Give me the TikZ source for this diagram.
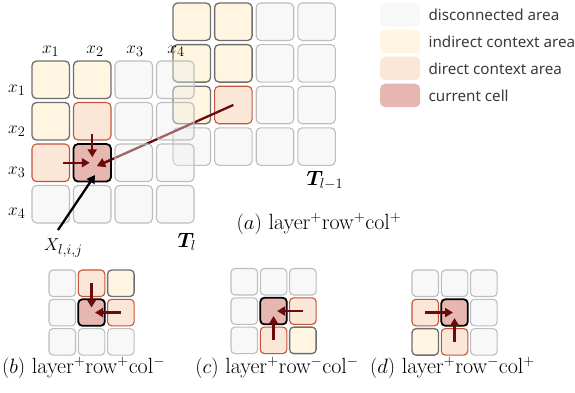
\documentclass[tikz,border=0pt]{standalone}
\usepackage{fontspec}
\usepackage{amsmath}
\usepackage{bm}
\newfontfamily\legendfont{Noto Sans}
\usetikzlibrary{arrows.meta,calc}

% cell colours (used with fill opacity 0.4)
\definecolor{discfill}{HTML}{EEEEEE}
\definecolor{discline}{HTML}{BDBDBD}
\definecolor{indfill}{HTML}{FFE6B2}
\definecolor{indline}{HTML}{6E6E6E}
\definecolor{dirfill}{HTML}{F5C39E}
\definecolor{dirline}{HTML}{C4533A}
\definecolor{curfill}{HTML}{C1493A}
\definecolor{flowred}{HTML}{6B0A0A}
\definecolor{legendgray}{HTML}{3A3A3A}

\tikzset{
  cellbox/.style={rectangle, rounded corners=4.5pt, inner sep=0pt, outer sep=0pt,
                  anchor=north west, fill opacity=0.4},
  cdisc/.style={cellbox, fill=discfill, draw=discline, line width=1.1pt},
  cind/.style={cellbox, fill=indfill, draw=indline, line width=1.3pt},
  cdir/.style={cellbox, fill=dirfill, draw=dirline, line width=1.1pt},
  ccur/.style={cellbox, fill=curfill, draw=black, line width=1.8pt},
  bigcell/.style={minimum size=37.5pt},
  smallcell/.style={minimum size=26.5pt, rounded corners=4pt},
  flow/.style={draw=flowred, line width=2.3pt, -{Triangle[length=8pt,width=9pt]}},
  pointer/.style={draw=black, line width=2.3pt, -{Triangle[length=8pt,width=9pt]}},
  mathlbl/.style={font=\fontsize{19}{22}\selectfont, inner sep=0pt},
  biglbl/.style={font=\fontsize{22}{26}\selectfont, inner sep=0pt},
  legtext/.style={font=\legendfont\fontsize{15.2}{18}\selectfont, text=legendgray,
                  anchor=west, inner sep=0pt},
  legbox/.style={rectangle, rounded corners=5pt, fill opacity=0.4, minimum width=40pt,
                 minimum height=23.5pt, anchor=north west, inner sep=0pt},
}

% #1 name prefix, #2 x, #3 y, #4 pitch, #5 size style, #6 list r/c/style
\newcommand\cellgrid[6]{%
  \foreach \r/\c/\t in {#6}{%
    \edef\tmpcell{\noexpand\node[\t,#5] (#1-\r-\c)
      at ({#2+#4*(\c-1)},{#3+#4*(\r-1)}) {};}\tmpcell}%
}

\begin{document}
\begin{tikzpicture}[x=1pt,y=-1pt]
\useasboundingbox (0,0) rectangle (575,392);

% previous layer T_{l-1}
\cellgrid{p}{173}{3}{41.6}{bigcell}{
  1/1/cind,1/2/cind,1/3/cdisc,1/4/cdisc,
  2/1/cind,2/2/cind,2/3/cdisc,2/4/cdisc,
  3/1/cind,3/2/cdir,3/3/cdisc,3/4/cdisc,
  4/1/cdisc,4/2/cdisc,4/3/cdisc,4/4/cdisc}

% link from the previous layer to the current cell (shaft under T_l)
\draw[flow] (p-3-2.center) -- ($(92.25,162.75)+(4.75,3.25)$) coordinate (ltip);

% current layer T_l
\cellgrid{l}{32}{61}{41.5}{bigcell}{
  1/1/cind,1/2/cind,1/3/cdisc,1/4/cdisc,
  2/1/cind,2/2/cdir,2/3/cdisc,2/4/cdisc,
  3/1/cdir,3/2/ccur,3/3/cdisc,3/4/cdisc,
  4/1/cdisc,4/2/cdisc,4/3/cdisc,4/4/cdisc}

% the part of the link inside the current cell stays on top
\begin{scope}
  \clip (l-3-2.north west) rectangle (l-3-2.south east);
  \draw[flow] (p-3-2.center) -- (ltip);
\end{scope}

% in-layer context arrows
\draw[flow, shorten <=13pt, shorten >=5.5pt] (l-2-2.center) -- (l-3-2.center);
\draw[flow, shorten <=12pt, shorten >=2.5pt] (l-3-1.center) -- (l-3-2.center);

% axis labels
\node[mathlbl, anchor=base] (cx1) at (50.7,53.5) {$x_1$};
\node[mathlbl, anchor=base] (cx2) at (95,53.5) {$x_2$};
\node[mathlbl, anchor=base] (cx3) at (135,53.5) {$x_3$};
\node[mathlbl, anchor=base] (cx4) at (176,53.5) {$x_4$};
\node[mathlbl, anchor=base west] (rx1) at (8,92.5) {$x_1$};
\node[mathlbl, anchor=base west] (rx2) at (8,133.5) {$x_2$};
\node[mathlbl, anchor=base west] (rx3) at (8,174) {$x_3$};
\node[mathlbl, anchor=base west] (rx4) at (8,215.5) {$x_4$};

\node[biglbl, anchor=base west] (tl) at (177.5,247) {$\bm{T}_l$};
\node[biglbl, anchor=base west] (tlm) at (306.5,185) {$\bm{T}_{l-1}$};

% pointer to the current cell
\node[mathlbl, anchor=base west] (xlab) at (44,250.5) {$X_{l,i,j}$};
\coordinate (xtail) at (58,230);
\draw[pointer] (xtail) -- ($(l-3-2.center)+(2.75,12.25)$);

\node[biglbl, anchor=base] (capa) at (319,229) {$(a)$ layer$^+$row$^+$col$^+$};

% (b) layer+ row+ col-
\cellgrid{b}{49}{270}{29.3}{smallcell}{
  1/1/cdisc,1/2/cdir,1/3/cind,
  2/1/cdisc,2/2/ccur,2/3/cdir,
  3/1/cdisc,3/2/cdisc,3/3/cdisc}
\draw[flow, shorten >=5pt] (b-1-2.center) -- (b-2-2.center);
\draw[flow, shorten >=3.5pt] (b-2-3.center) -- (b-2-2.center);
\node[biglbl, anchor=base] (capb) at (83.5,373) {$(b)$ layer$^+$row$^+$col$^-$};

% (c) layer+ row- col-
\cellgrid{c}{231}{268.5}{29.3}{smallcell}{
  1/1/cdisc,1/2/cdisc,1/3/cdisc,
  2/1/cdisc,2/2/ccur,2/3/cdir,
  3/1/cdisc,3/2/cdir,3/3/cind}
\draw[flow, shorten >=3.5pt] (c-2-3.center) -- (c-2-2.center);
\draw[flow, shorten >=5pt] (c-3-2.center) -- (c-2-2.center);
\node[biglbl, anchor=base] (capc) at (277,373) {$(c)$ layer$^+$row$^-$col$^-$};

% (d) layer+ row- col+
\cellgrid{d}{412}{270}{29.3}{smallcell}{
  1/1/cdisc,1/2/cdisc,1/3/cdisc,
  2/1/cdir,2/2/ccur,2/3/cdisc,
  3/1/cind,3/2/cdir,3/3/cdisc}
\draw[flow, shorten >=1.5pt] (d-2-1.center) -- (d-2-2.center);
\draw[flow, shorten >=5.5pt] (d-3-2.center) -- (d-2-2.center);
\node[biglbl, anchor=base] (capd) at (452.5,373) {$(d)$ layer$^+$row$^-$col$^+$};

% legend
\node[legbox, fill=discfill] (kdisc) at (380,3) {};
\node[legbox, fill=indfill] (kind) at (380,29.5) {};
\node[legbox, fill=dirfill] (kdir) at (380,56.5) {};
\node[legbox, fill=curfill] (kcur) at (380,83.5) {};
\node[legtext] (tdisc) at ($(kdisc.east)+(8,0)$) {disconnected area};
\node[legtext] (tind) at ($(kind.east)+(8,0)$) {indirect context area};
\node[legtext] (tdir) at ($(kdir.east)+(8,0)$) {direct context area};
\node[legtext] (tcur) at ($(kcur.east)+(8,0)$) {current cell};
\end{tikzpicture}
\end{document}
